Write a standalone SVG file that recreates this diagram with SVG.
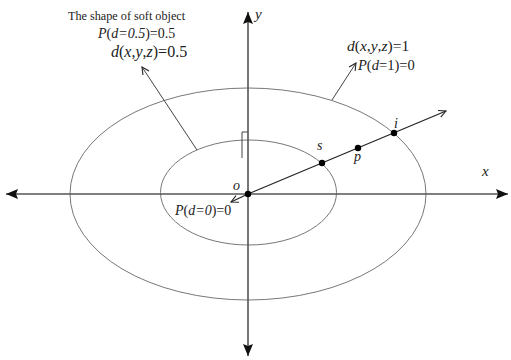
<svg xmlns="http://www.w3.org/2000/svg" width="511" height="360" viewBox="0 0 511 360">
<style>
.ax{stroke:#555;stroke-width:1.6;fill:none}
.el{stroke:#777;stroke-width:1;fill:none}
.ray{stroke:#222;stroke-width:1.2;fill:none}
.ld{stroke:#444;stroke-width:1;fill:none}
text{font-family:"Liberation Serif","Times New Roman",serif;fill:#222}
.i{font-style:italic}
</style>
<defs>
<marker id="solid" viewBox="0 0 12 10" refX="12" refY="5" markerWidth="12" markerHeight="10" markerUnits="userSpaceOnUse" orient="auto">
<path d="M0,0 L12,5 L0,10 L2,5 Z" fill="#111"/>
</marker>
<marker id="open" viewBox="0 0 10 10" refX="9" refY="5" markerWidth="9" markerHeight="9" markerUnits="userSpaceOnUse" orient="auto">
<path d="M1,1 L9,5 L1,9" fill="none" stroke="#222" stroke-width="1.2"/>
</marker>
</defs>
<g id="shapes">
<ellipse id="outer" class="el" cx="248" cy="194" rx="178" ry="106"/>
<ellipse id="inner" class="el" cx="248.5" cy="192.5" rx="88" ry="52.5"/>
<path id="rightangle" class="ld" d="M242,158 V132 H248"/>
</g>
<g id="connectors">
<line class="ax" x1="248" y1="194" x2="248" y2="12" marker-end="url(#solid)"/>
<line class="ax" x1="248" y1="194" x2="248" y2="356" marker-end="url(#solid)"/>
<line class="ax" x1="248" y1="194" x2="6" y2="194" marker-end="url(#solid)"/>
<line class="ax" x1="248" y1="194" x2="508" y2="194" marker-end="url(#solid)"/>
<line class="ray" x1="248" y1="194" x2="446" y2="111" marker-end="url(#open)"/>
<line class="ray" x1="248" y1="194" x2="231" y2="202" marker-end="url(#open)"/>
<line class="ld" x1="197" y1="150" x2="142" y2="67" marker-end="url(#open)"/>
<line class="ld" x1="332" y1="100" x2="356" y2="63" marker-end="url(#open)"/>
</g>
<g id="points">
<circle id="o" cx="248" cy="194" r="3.2" fill="#000"/>
<circle id="s" cx="322" cy="163" r="3.2" fill="#000"/>
<circle id="p" cx="358" cy="148" r="3.2" fill="#000"/>
<circle id="i" cx="394" cy="133" r="3.2" fill="#000"/>
</g>
<g id="labels">
<text x="68" y="20" font-size="12.2">The shape of soft object</text>
<text x="98" y="38" font-size="14"><tspan class="i">P</tspan>(<tspan class="i">d=0.5</tspan>)=0.5</text>
<text x="111" y="57" font-size="16"><tspan class="i">d</tspan>(<tspan class="i">x</tspan>,<tspan class="i">y</tspan>,<tspan class="i">z</tspan>)=0.5</text>
<text x="347" y="51" font-size="15.5"><tspan class="i">d</tspan>(<tspan class="i">x</tspan>,<tspan class="i">y</tspan>,<tspan class="i">z</tspan>)=1</text>
<text x="358" y="70" font-size="14.5"><tspan class="i">P</tspan>(<tspan class="i">d</tspan>=1)=0</text>
<text x="175" y="215" font-size="14"><tspan class="i">P</tspan>(<tspan class="i">d=0</tspan>)=0</text>
<text x="255" y="19" font-size="15" class="i">y</text>
<text x="482" y="176" font-size="15" class="i">x</text>
<text x="233" y="190" font-size="14" class="i">o</text>
<text x="317" y="150" font-size="14" class="i">s</text>
<text x="354" y="161" font-size="14" class="i">p</text>
<text x="394" y="128" font-size="14" class="i">i</text>
</g>
</svg>
